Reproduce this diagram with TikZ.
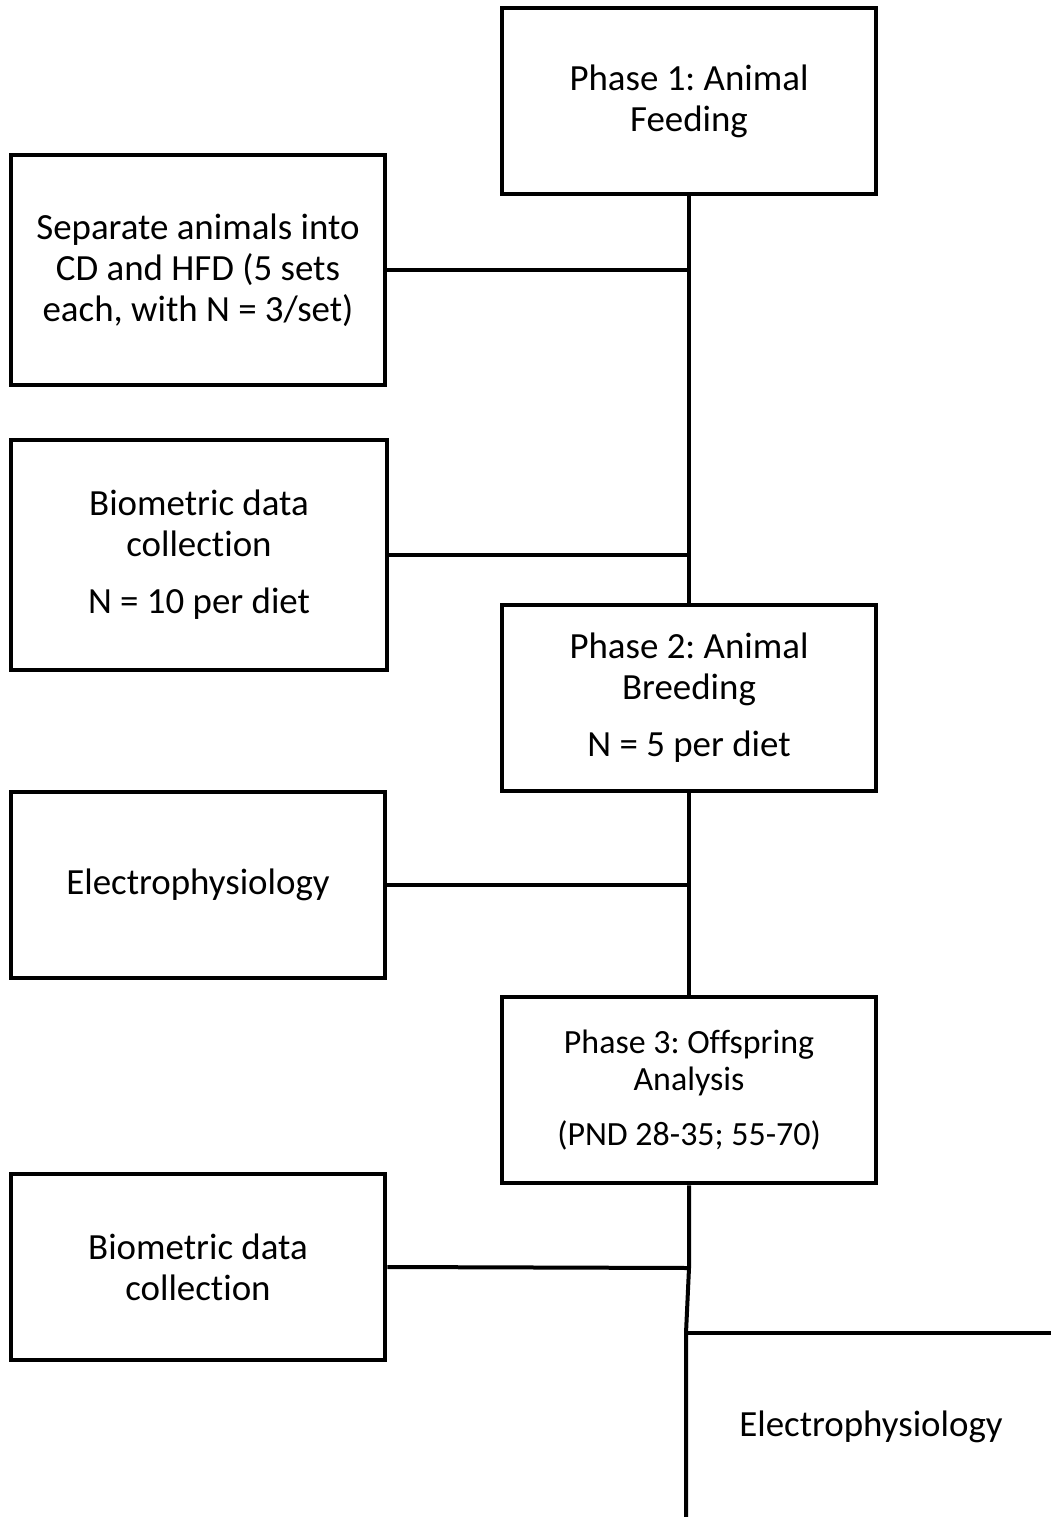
\documentclass[tikz,border=0pt]{standalone}
\usepackage{fontspec}
\setmainfont{Carlito}[Ligatures=NoCommon]
\frenchspacing
\tikzset{
  phasebox/.style={draw, line width=0.08cm, minimum width=7.48cm, minimum height=3.74cm, align=center, font=\fontsize{21}{23.3}\selectfont},
  sidebox/.style={draw, line width=0.08cm, minimum width=7.5cm, align=center, font=\fontsize{21}{23.3}\selectfont},
  link/.style={line width=0.08cm}
}
\begin{document}
\begin{tikzpicture}[x=0.02cm,y=-0.02cm]
        \useasboundingbox (0,0) rectangle (1051,1517);

        % main phases
        \node[phasebox] (p1) at (689,101) {Phase 1: Animal\\Feeding};
        \node[phasebox] (p2) at (689,698) {Phase 2: Animal\\Breeding\\[0.32cm]N = 5 per diet};
        \node[phasebox, font=\fontsize{19.3}{21.3}\selectfont] (p3) at (689,1090) {Phase 3: Offspring\\Analysis\\[0.36cm](PND 28-35; 55-70)};

        % side steps
        \node[sidebox, minimum height=4.62cm] (sep) at (198,270) {Separate animals into\\CD and HFD (5 sets\\each, with N = 3/set)};
        \node[sidebox, minimum height=4.6cm, minimum width=7.54cm] (bio1) at (199,555) {Biometric data\\collection\\[0.32cm]N = 10 per diet};
        \node[sidebox, minimum height=3.72cm] (el1) at (198,885) {Electrophysiology};
        \node[sidebox, minimum height=3.72cm] (bio2) at (198,1267) {Biometric data\\collection};
        \node[font=\fontsize{21}{23.3}\selectfont] (el2) at (871,1427) {Electrophysiology};

        \coordinate (kink) at (689,1268);
        \coordinate (split) at (686,1333);
        \coordinate (bottom) at (686,1517);
        \coordinate (edge) at (1051,1333);

        \draw [link] (p1.south) -- (p2.north) ;
        \draw [link] (p2.south) -- (p3.north) ;
        \draw [link] (p3.south) -- (kink) -- (split) -- (bottom) ;
        \draw [link] (split) -- (edge) ;
        \draw [link] (sep.east) -- (sep.east -| p1.south) ;
        \draw [link] (bio1.east) -- (bio1.east -| p1.south) ;
        \draw [link] (el1.east) -- (el1.east -| p2.south) ;
        \draw [link] (bio2.east) -- (kink) ;
\end{tikzpicture}
\end{document}
